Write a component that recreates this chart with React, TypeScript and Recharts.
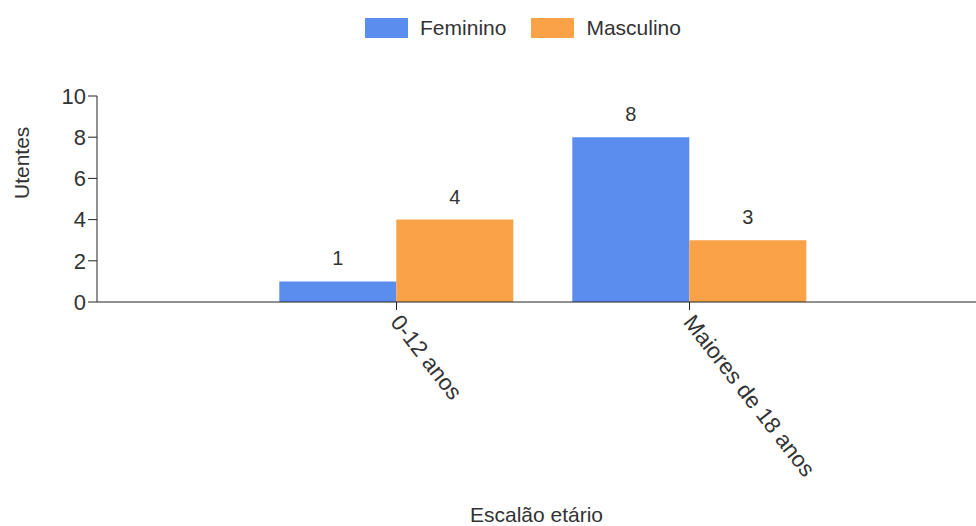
import { BarChart, Bar, XAxis, YAxis, Legend, LabelList } from 'recharts'

const categories = ['0-12 anos', 'Maiores de 18 anos']
const feminino = [1, 8]
const masculino = [4, 3]
const yTicks = [0, 2, 4, 6, 8, 10]

const data = categories.map((name, i) => ({
  name,
  Feminino: feminino[i],
  Masculino: masculino[i]
}))

const FONT = 'Liberation Sans, Arial, sans-serif'
const BLUE = '#5b8def'
const ORANGE = '#f9a247'
const TEXT = '#333'
const AXIS = '#222'

const LegendBox = () => (
  <div style={{ display: 'flex', justifyContent: 'center', alignItems: 'center', fontFamily: FONT, fontSize: 21, color: TEXT, height: 40, paddingLeft: 70 }}>
    <span style={{ display: 'inline-block', width: 43, height: 20, background: BLUE, marginRight: 12 }} />
    <span style={{ marginRight: 25 }}>Feminino</span>
    <span style={{ display: 'inline-block', width: 43, height: 20, background: ORANGE, marginRight: 12 }} />
    <span>Masculino</span>
  </div>
)

const XTick = (props: any) => {
  const { x, y, payload } = props
  return (
    <g transform={`translate(${x},${y})`}>
      <text transform="rotate(52)" x={0} y={0} dy={12} dx={4} textAnchor="start" fill={TEXT} fontSize={22.5} fontFamily={FONT}>
        {payload.value}
      </text>
    </g>
  )
}

const App = () => {
  return (
    <div style={{ position: 'absolute', left: 0, top: 0, background: '#fff' }}>
      <BarChart width={976} height={526} data={data} barCategoryGap="10%" barGap={0}
        margin={{ top: 56, right: 0, bottom: 0, left: 0 }}>
        <Legend verticalAlign="top" height={40} content={<LegendBox />} wrapperStyle={{ top: 8, left: 0, width: 976 }} />
        <XAxis dataKey="name" height={224} padding={{ left: 153, right: 140 }} tick={<XTick />}
          tickSize={8} stroke={AXIS} interval={0}
          label={{ value: 'Escalão etário', position: 'insideBottom', offset: 4, fill: TEXT, fontSize: 21, fontFamily: FONT }} />
        <YAxis width={97} domain={[0, 10]} ticks={yTicks} tickSize={9} stroke={AXIS}
          tick={{ fill: TEXT, fontSize: 22, fontFamily: FONT }}
          label={{ value: 'Utentes', angle: -90, position: 'insideLeft', offset: 22, fill: TEXT, fontSize: 21, fontFamily: FONT }} />
        <Bar dataKey="Feminino" fill={BLUE} isAnimationActive={false}>
          <LabelList dataKey="Feminino" position="top" offset={16} fill={TEXT} fontSize={20} fontFamily={FONT} />
        </Bar>
        <Bar dataKey="Masculino" fill={ORANGE} isAnimationActive={false}>
          <LabelList dataKey="Masculino" position="top" offset={16} fill={TEXT} fontSize={20} fontFamily={FONT} />
        </Bar>
      </BarChart>
    </div>
  )
}

export default App
